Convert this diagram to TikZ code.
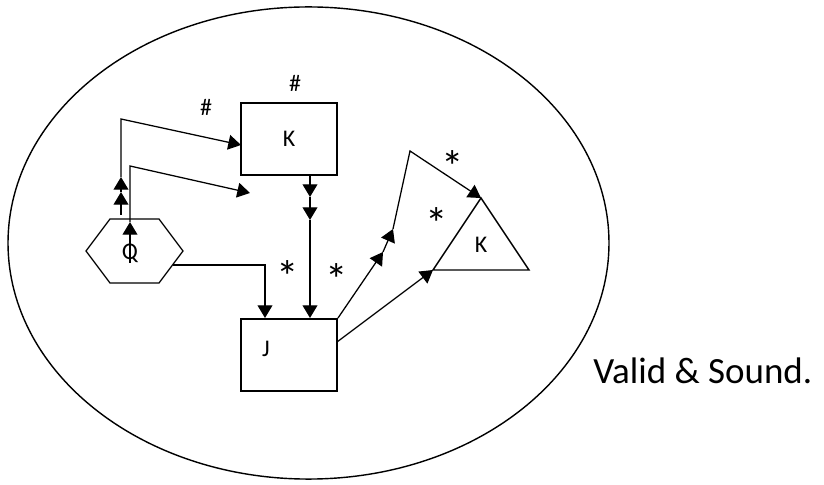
\documentclass[tikz,border=0pt]{standalone}
\usepackage{fontspec}
\setmainfont{Carlito}
\usetikzlibrary{arrows.meta}

\tikzset{
  box/.style={draw, line width=1.4pt, minimum width=2.4cm, minimum height=1.8cm, inner sep=0pt, font=\fontsize{17}{20}\selectfont},
  conn/.style={line width=0.9pt, -{Triangle[length=9pt,width=10.5pt]}},
  lbl/.style={inner sep=0pt, font=\fontsize{17}{20}\selectfont},
  starmark/.style={inner sep=0pt, font=\fontsize{32}{36}\selectfont},
}

\begin{document}
\begin{tikzpicture}[x=0.025cm, y=-0.025cm]
\useasboundingbox (0,0) rectangle (824,485);
\draw[line width=1pt] (308.5,243) ellipse [x radius=7.51cm, y radius=5.9cm];

% boxes
\node[box] (Kbox) at (289,139) {K};
\node[box] (Jbox) at (289,355) {};
\node[lbl] (Jtxt) at (266,349) {J};

% hexagon
\draw[line width=0.9pt] (86,251) -- (110,219) -- (159,219) -- (183,251) -- (159,283) -- (110,283) -- cycle;
\node[lbl] (Q) at (130,253) {Q};

% triangle
\draw[line width=1pt] (481,198) coordinate (tapex) -- (529,270) -- (433,270) coordinate (tleft) -- cycle;
\node[lbl] (Ktri) at (481,245) {K};

% bends
\coordinate (h1) at (121,215);
\coordinate (h1a) at (121,192);
\coordinate (h1b) at (121,177);
\coordinate (h1c) at (121,119);
\coordinate (kin) at (241,145);
\coordinate (h2) at (130,263);
\coordinate (h2a) at (130,222);
\coordinate (h2b) at (130,166);
\coordinate (h2c) at (250,193);
\coordinate (h3) at (172.5,265);
\coordinate (h3a) at (265,265);
\coordinate (v1) at (310,197);
\coordinate (v2) at (310,220);
\coordinate (d1) at (383,252);
\coordinate (d2) at (393,229);
\coordinate (d3) at (410,151);
\coordinate (jout) at (337,342);

% Q to K
\draw[conn] (h1) -- (h1a);
\draw[conn] (h1a) -- (h1b);
\draw[conn] (h1b) -- (h1c) -- (kin);
\draw[conn] (h2) -- (h2a);
\draw[conn] (h2a) -- (h2b) -- (h2c);

% Q to J
\draw[conn] (h3) -- (h3a) -- (h3a |- Jbox.north);

% K to J
\draw[conn] (v1 |- Kbox.south) -- (v1);
\draw[conn] (v1) -- (v2);
\draw[conn] (v2) -- (v2 |- Jbox.north);

% J to triangle
\draw[conn] (Jbox.north east) -- (d1);
\draw[conn] (d1) -- (d2);
\draw[conn] (d2) -- (d3) -- (tapex);
\draw[conn] (jout) -- (tleft);

% marks
\node[starmark] (star1) at (288,277) {*};
\node[starmark] (star2) at (337,280) {*};
\node[starmark] (star3) at (453,167) {*};
\node[starmark] (star4) at (437,224) {*};
\node[lbl] (hash1) at (206,107) {\#};
\node[lbl] (hash2) at (295,83) {\#};

\node[anchor=base west, inner sep=0pt, font=\fontsize{26.3}{30}\selectfont] (verdict) at (593,383) {Valid \& Sound.};
\end{tikzpicture}
\end{document}
